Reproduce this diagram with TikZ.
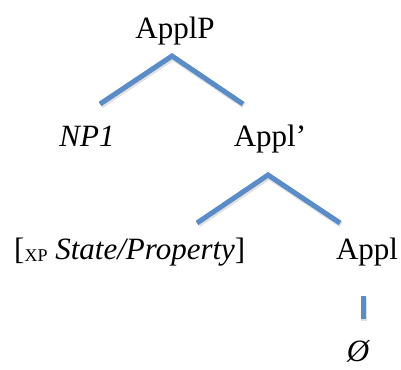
\documentclass[tikz,border=0pt]{standalone}
\usepackage{fontspec}
\setmainfont{Liberation Serif}
\definecolor{branch}{RGB}{90,141,200}
\tikzset{
  lbl/.style={inner sep=0pt, anchor=base, font=\fontsize{31}{36}\selectfont},
  branchline/.style={draw=branch, line width=5pt, line join=miter},
  branchshadow/.style={draw=black, opacity=0.12, line width=6pt, line join=miter},
}
\begin{document}
\begin{tikzpicture}[x=1pt,y=-1pt]
\useasboundingbox (0,0) rectangle (401,369);
% labels
\node[lbl] (applp) at (175,38) {ApplP};
\node[lbl] (np1) at (87,146) {\itshape NP1};
\node[lbl] (applbar) at (270,146) {Appl’};
\node[lbl, anchor=base west] (xp) at (14,259) {[\raisebox{-2pt}{\fontsize{18}{20}\selectfont XP} {\itshape State/Property}]};
\node[lbl] (appl) at (367,259) {Appl};
\node[lbl] (null) at (358,361) {\itshape Ø};
% branch points
\coordinate (a1) at (172,56);
\coordinate (l1) at (100,104);
\coordinate (r1) at (243,104);
\coordinate (a2) at (268,175);
\coordinate (l2) at (197,223);
\coordinate (r2) at (340,223);
\coordinate (t3) at (363,296);
\coordinate (b3) at (363,319);
% shadows
\draw[branchshadow, transform canvas={xshift=1pt,yshift=-1.5pt}] (l1) -- (a1) -- (r1);
\draw[branchshadow, transform canvas={xshift=1pt,yshift=-1.5pt}] (l2) -- (a2) -- (r2);
\draw[branchshadow, transform canvas={xshift=1pt,yshift=-1.5pt}] (t3) -- (b3);
% branches
\draw[branchline] (l1) -- (a1) -- (r1);
\draw[branchline] (l2) -- (a2) -- (r2);
\draw[branchline] (t3) -- (b3);
\end{tikzpicture}
\end{document}
